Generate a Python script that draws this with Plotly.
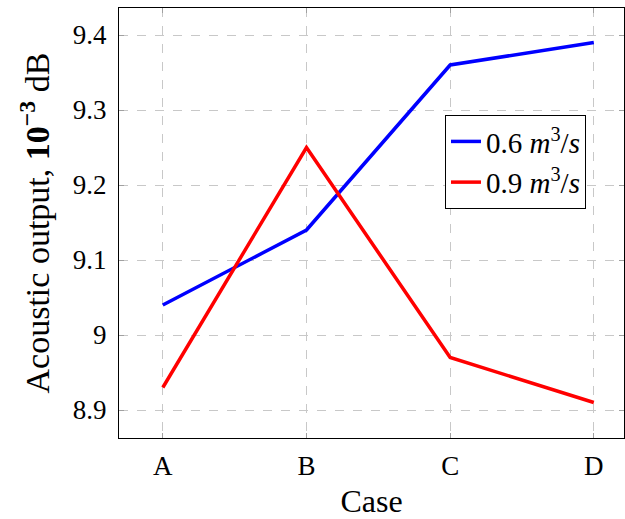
import plotly.graph_objects as go

cases = ["A", "B", "C", "D"]
flow_06 = [9.04, 9.14, 9.36, 9.39]
flow_09 = [8.93, 9.25, 8.97, 8.91]
y_ticks = [8.9, 9.0, 9.1, 9.2, 9.3, 9.4]
y_tick_text = ["8.9", "9", "9.1", "9.2", "9.3", "9.4"]

font_family = "Liberation Serif, DejaVu Serif, serif"

fig = go.Figure()
fig.add_trace(go.Scatter(x=list(range(len(cases))), y=flow_06, mode="lines",
                         line=dict(color="#0000ff", width=3.5),
                         name="0.6 <i>m</i><sup>3</sup>/<i>s</i>"))
fig.add_trace(go.Scatter(x=list(range(len(cases))), y=flow_09, mode="lines",
                         line=dict(color="#ff0000", width=3.5),
                         name="0.9 <i>m</i><sup>3</sup>/<i>s</i>"))

fig.update_layout(
    width=625, height=519,
    margin=dict(l=119, r=1, t=8, b=81),
    plot_bgcolor="white", paper_bgcolor="white",
    font=dict(family=font_family, size=27, color="black"),
    showlegend=True,
    legend=dict(x=0.6455, y=0.751, xanchor="left", yanchor="top",
                bordercolor="black", borderwidth=1, bgcolor="white",
                font=dict(family=font_family, size=29), itemwidth=30,
                tracegroupgap=0),
    xaxis=dict(
        tickmode="array", tickvals=list(range(len(cases))), ticktext=cases,
        range=[-0.305, 3.21],
        showline=True, linecolor="black", linewidth=1, mirror="all",
        showgrid=True, gridcolor="#c8c8c8", griddash="dash", gridwidth=1,
        ticks="inside", ticklen=5, tickcolor="#a0a0a0",
        zeroline=False, ticklabelstandoff=4,
        title=dict(text="Case", standoff=12),
    ),
    yaxis=dict(
        tickmode="array", tickvals=y_ticks, ticktext=y_tick_text,
        range=[8.8627, 9.436],
        showline=True, linecolor="black", linewidth=1, mirror="all",
        showgrid=True, gridcolor="#c8c8c8", griddash="dash", gridwidth=1,
        ticks="inside", ticklen=5, tickcolor="#a0a0a0",
        zeroline=False, ticklabelstandoff=6,
        title=dict(text="Acoustic output, <b>10<sup>−3</sup></b> dB",
                   standoff=12, font=dict(family=font_family, size=34)),
    ),
)

fig.write_html("out.html", config={"displayModeBar": False},
               post_script="document.body.style.margin='0';document.body.style.overflow='hidden';")
